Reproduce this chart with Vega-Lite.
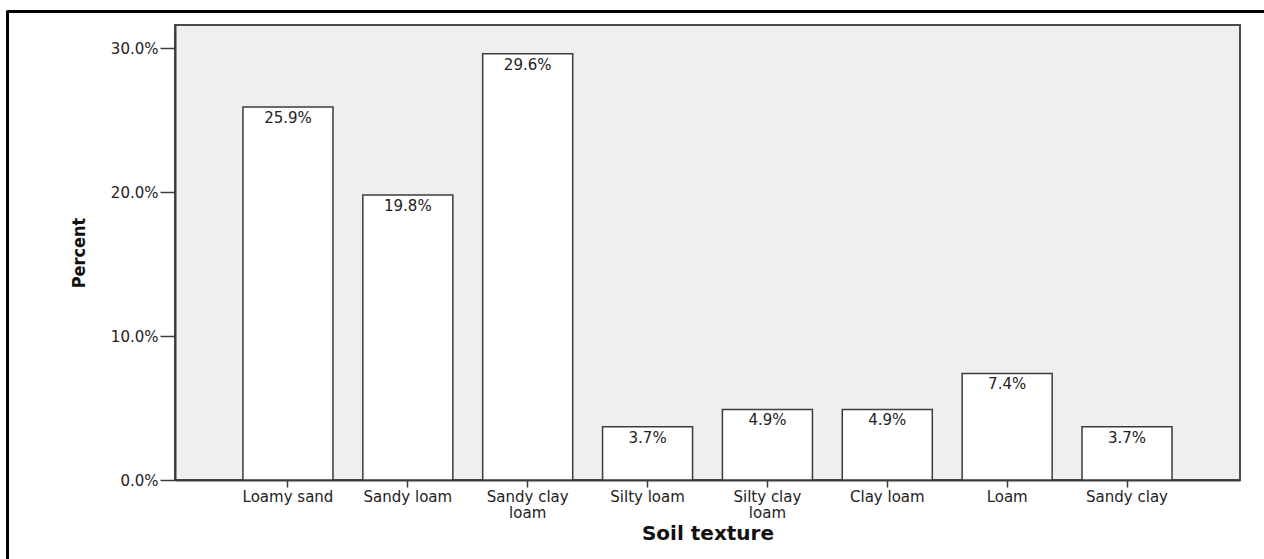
{
  "$schema": "https://vega.github.io/schema/vega-lite/v6.json",
  "width": 1065,
  "height": 455,
  "autosize": {"type": "none"},
  "padding": {"left": 175, "top": 25, "right": 24, "bottom": 79},
  "background": "white",
  "config": {
    "view": {"fill": "#efefef", "stroke": "#4a4a4a", "strokeWidth": 2},
    "font": "DejaVu Sans"
  },
  "data": {
    "values": [
      {"texture": "Loamy sand", "share": 0.259},
      {"texture": "Sandy loam", "share": 0.198},
      {"texture": "Sandy clay loam", "share": 0.296},
      {"texture": "Silty loam", "share": 0.037},
      {"texture": "Silty clay loam", "share": 0.049},
      {"texture": "Clay loam", "share": 0.049},
      {"texture": "Loam", "share": 0.074},
      {"texture": "Sandy clay", "share": 0.037}
    ]
  },
  "layer": [
    {
      "encoding": {
        "x": {
          "field": "texture",
          "type": "nominal",
          "sort": null,
          "scale": {"paddingInner": 0.249, "paddingOuter": 0.567},
          "axis": {
            "title": "Soil texture",
            "titleFont": "DejaVu Sans",
            "titleFontSize": 20,
            "titleFontWeight": "bold",
            "titleColor": "#111",
            "titlePadding": 3,
            "labelAngle": 0,
            "labelFont": "DejaVu Sans",
            "labelFontSize": 15,
            "labelColor": "#222",
            "labelPadding": 2,
            "labelLineHeight": 16,
            "labelLimit": 0,
            "labelExpr": "datum.label == 'Sandy clay loam' ? ['Sandy clay', 'loam'] : datum.label == 'Silty clay loam' ? ['Silty clay', 'loam'] : datum.label",
            "tickSize": 7,
            "tickColor": "#3c3c3c",
            "tickWidth": 1.5,
            "domainColor": "#3c3c3c",
            "domainWidth": 2,
            "grid": false
          }
        },
        "y": {
          "field": "share",
          "type": "quantitative",
          "scale": {"domain": [0, 0.316], "nice": false, "zero": true},
          "axis": {
            "title": "Percent",
            "titleFont": "DejaVu Sans Condensed",
            "titleFontSize": 18,
            "titleFontWeight": "bold",
            "titleColor": "#111",
            "titlePadding": 22,
            "values": [0, 0.1, 0.2, 0.3],
            "format": ".1%",
            "labelFont": "DejaVu Sans",
            "labelFontSize": 15,
            "labelColor": "#222",
            "labelPadding": 2,
            "tickSize": 15,
            "tickColor": "#3c3c3c",
            "tickWidth": 1.5,
            "domainColor": "#3c3c3c",
            "domainWidth": 2,
            "grid": false
          }
        }
      },
      "layer": [
        {
          "mark": {"type": "bar", "fill": "white", "stroke": "#3c3c3c", "strokeWidth": 1.5}
        },
        {
          "mark": {"type": "text", "baseline": "top", "dy": 4, "fontSize": 15, "font": "DejaVu Sans", "color": "#222"},
          "encoding": {"text": {"field": "share", "format": ".1%"}}
        }
      ]
    },
    {
      "mark": {"type": "point", "opacity": 0},
      "encoding": {
        "x": {
          "datum": 0,
          "type": "quantitative",
          "scale": {"domain": [0, 1], "range": [-168, 1089]},
          "axis": {"orient": "top", "offset": 14, "title": null, "labels": false, "ticks": false, "grid": false, "domainColor": "black", "domainWidth": 3}
        },
        "y": {
          "datum": 0,
          "type": "quantitative",
          "scale": {"domain": [0, 1], "range": [534, -15]},
          "axis": {"orient": "left", "offset": 168, "title": null, "labels": false, "ticks": false, "grid": false, "domainColor": "black", "domainWidth": 3}
        }
      }
    }
  ],
  "resolve": {
    "scale": {"x": "independent", "y": "independent"},
    "axis": {"x": "independent", "y": "independent"}
  }
}
